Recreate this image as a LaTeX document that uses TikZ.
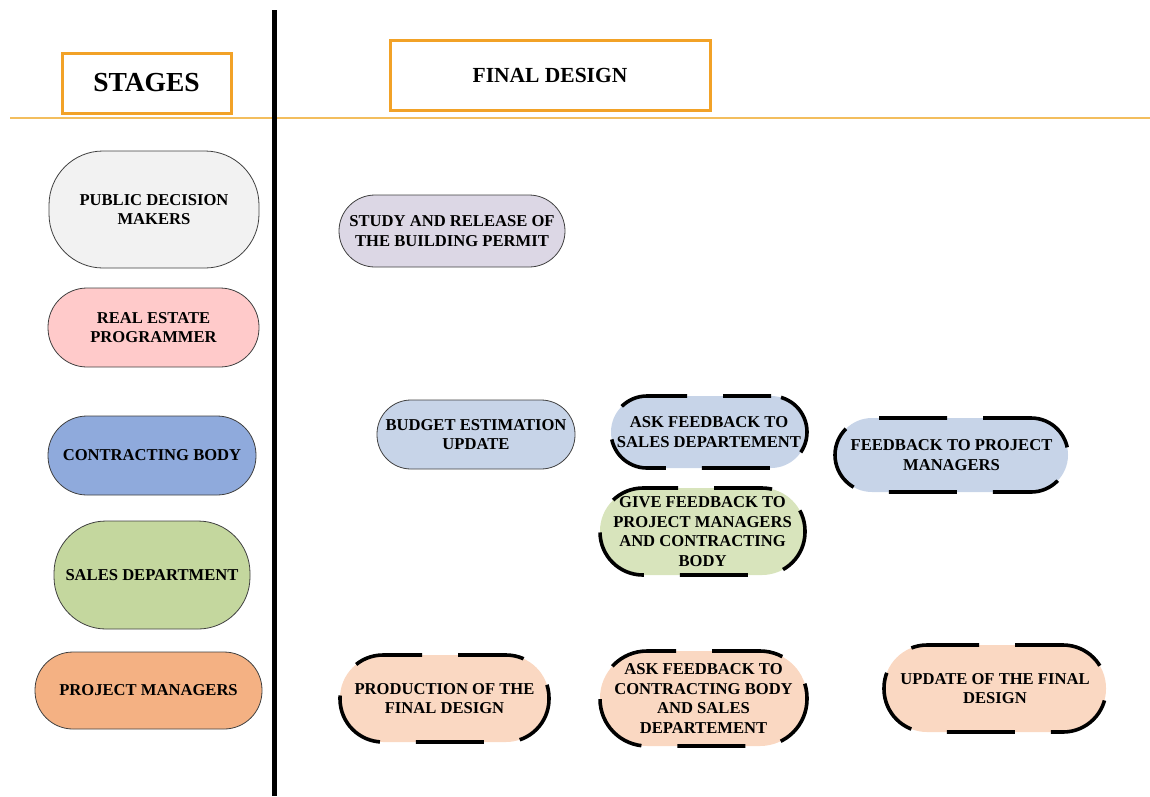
\documentclass[tikz,border=0pt]{standalone}
\usepackage{fontspec}
\setmainfont{Liberation Serif}
\definecolor{hdrorange}{HTML}{F2A227}
\definecolor{ruleorange}{HTML}{F3BE5E}
\definecolor{cgrey}{HTML}{F2F2F2}
\definecolor{cpink}{HTML}{FFCACA}
\definecolor{cblue}{HTML}{8FAADC}
\definecolor{cgreen}{HTML}{C4D79E}
\definecolor{corange}{HTML}{F4B183}
\definecolor{clav}{HTML}{DCD7E5}
\definecolor{cpaleblue}{HTML}{C7D4E8}
\definecolor{cpalegreen}{HTML}{D8E4BC}
\definecolor{cpeach}{HTML}{FAD8C2}
\tikzset{
  txt/.style={font=\bfseries\fontsize{16.6}{19.5}\selectfont, align=center, text=black},
  hdrbox/.style={draw=hdrorange, line width=3pt, inner sep=0pt},
  stadium/.style={txt, draw=black!75, line width=0.8pt, inner sep=0pt, rounded corners=#1},
  dstadium/.style={txt, draw=black, line width=3.6pt, dash pattern=on 68pt off 36pt, dash phase=20pt, inner sep=0pt, rounded corners=#1},
}
\begin{document}
\begin{tikzpicture}[x=1pt, y=-1pt]
\useasboundingbox (0,0) rectangle (1150,796);

% section rules
\coordinate (vtop) at (274,10);
\coordinate (vbot) at (274,796);
\coordinate (hl) at (10,118);
\coordinate (hr) at (1150,118);
\draw[ruleorange, line width=2pt] (hl) -- (hr);
\draw[black, line width=5pt] (vtop) -- (vbot);

% headers
\node[hdrbox, minimum width=169pt, minimum height=60pt,
      font=\bfseries\fontsize{27.5}{30}\selectfont] (stages) at (146.5,83) {STAGES};
\node[hdrbox, minimum width=320pt, minimum height=70pt,
      font=\bfseries\fontsize{21.5}{24}\selectfont] (final) at (550,75) {FINAL DESIGN};

% stages (actors)
\node[stadium=54pt, fill=cgrey, minimum width=210pt, minimum height=117pt] (pdm) at (154,209.5) {PUBLIC DECISION\\MAKERS};
\node[stadium=39pt, fill=cpink, minimum width=211pt, minimum height=79pt] (rep) at (153.5,327.5) {REAL ESTATE\\PROGRAMMER};
\node[stadium=39pt, fill=cblue, minimum width=208pt, minimum height=79pt] (cb) at (152,455.5) {CONTRACTING BODY};
\node[stadium=52pt, fill=cgreen, minimum width=196pt, minimum height=108pt] (sd) at (152,575) {SALES DEPARTMENT};
\node[stadium=38pt, fill=corange, minimum width=227pt, minimum height=77pt] (pm) at (148.5,690.5) {PROJECT MANAGERS};

% final design activities
\node[stadium=36pt, fill=clav, minimum width=226pt, minimum height=72pt] (study) at (452,231) {STUDY AND RELEASE OF\\THE BUILDING PERMIT};
\node[stadium=34pt, fill=cpaleblue, minimum width=198pt, minimum height=69pt] (budget) at (476,434.5) {BUDGET ESTIMATION\\UPDATE};
\node[dstadium=36pt, fill=cpaleblue, minimum width=196pt, minimum height=72pt] (asksales) at (709,432) {ASK FEEDBACK TO\\SALES DEPARTEMENT};
\node[dstadium=43pt, fill=cpalegreen, minimum width=205pt, minimum height=87pt] (give) at (702.5,531.5) {GIVE FEEDBACK TO\\PROJECT MANAGERS\\AND CONTRACTING\\BODY};
\node[dstadium=37pt, fill=cpaleblue, minimum width=233pt, minimum height=74pt] (fbpm) at (951.5,455) {FEEDBACK TO PROJECT\\MANAGERS};
\node[dstadium=43pt, fill=cpeach, minimum width=209pt, minimum height=87pt] (prod) at (444.5,698.5) {PRODUCTION OF THE\\FINAL DESIGN};
\node[dstadium=47pt, fill=cpeach, minimum width=207pt, minimum height=95pt] (askcb) at (703.5,698.5) {ASK FEEDBACK TO\\CONTRACTING BODY\\AND SALES\\DEPARTEMENT};
\node[dstadium=43pt, fill=cpeach, minimum width=222pt, minimum height=87pt] (upd) at (995,688.5) {UPDATE OF THE FINAL\\DESIGN};
\end{tikzpicture}
\end{document}
